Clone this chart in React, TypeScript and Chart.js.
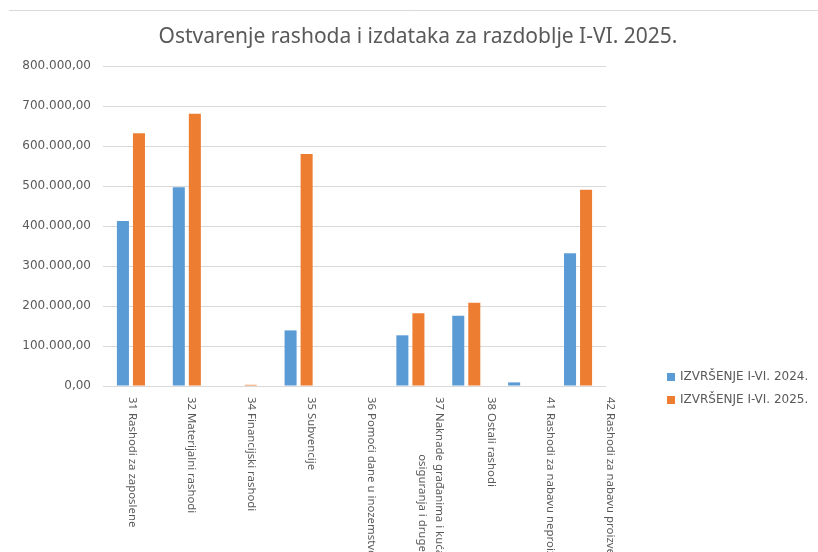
import React, { useEffect, useRef } from "react";
import { Chart, registerables } from "chart.js";

Chart.register(...registerables);

const TITLE = "Ostvarenje rashoda i izdataka za razdoblje I-VI. 2025.";

const categories: string[][] = [
  ["31 Rashodi za zaposlene"],
  ["32 Materijalni rashodi"],
  ["34 Financijski rashodi"],
  ["35 Subvencije"],
  ["36 Pomoći dane u inozemstvo i unutar općeg proračuna"],
  ["37 Naknade građanima i kućanstvima na temelju", "osiguranja i druge naknade"],
  ["38 Ostali rashodi"],
  ["41 Rashodi za nabavu neproizvedene dugotrajne imovine"],
  ["42 Rashodi za nabavu proizvedene dugotrajne imovine"],
];

const seriesNames = ["IZVRŠENJE I-VI. 2024.", "IZVRŠENJE I-VI. 2025."];
const values2024 = [412500, 496700, 0, 139000, 0, 126700, 175800, 9000, 331700];
const values2025 = [631700, 680800, 3000, 580000, 0, 181700, 208000, 0, 490800];
const seriesColors = ["#5B9BD5", "#ED7D31"];

const yMin = 0;
const yMax = 800000;
const yStep = 100000;

const TEXT_COLOR = "#595959";
const GRID_COLOR = "#d9d9d9";
const LABEL_SPREAD = 1.07;

function formatHr(v: number): string {
  const [intPart, dec] = Math.abs(v).toFixed(2).split(".");
  const withDots = intPart.replace(/\B(?=(\d{3})+(?!\d))/g, ".");
  return (v < 0 ? "-" : "") + withDots + "," + dec;
}

const decorPlugin = {
  id: "decor",
  beforeDraw(chart: any) {
    const { ctx, width } = chart;
    ctx.save();
    ctx.fillStyle = "#ffffff";
    ctx.fillRect(0, 0, width, chart.height);
    ctx.strokeStyle = GRID_COLOR;
    ctx.lineWidth = 1;
    ctx.beginPath();
    ctx.moveTo(9, 10.5);
    ctx.lineTo(width, 10.5);
    ctx.stroke();
    ctx.restore();
  },
  afterDraw(chart: any) {
    const { ctx, chartArea } = chart;
    const xs = chart.scales.x;
    ctx.save();
    // title
    ctx.fillStyle = TEXT_COLOR;
    ctx.font = '21px "Noto Sans"';
    ctx.textAlign = "center";
    ctx.textBaseline = "middle";
    ctx.fillText(TITLE, chart.width / 2 + 9, 37);

    // x labels, rotated 90deg clockwise
    ctx.font = '11.4px "Noto Sans"';
    ctx.fillStyle = TEXT_COLOR;
    ctx.textAlign = "left";
    ctx.textBaseline = "middle";
    const lh = 17;
    const x0 = xs.getPixelForTick(0);
    categories.forEach((lines, i) => {
      const x = x0 + 1 + (xs.getPixelForTick(i) - x0) * LABEL_SPREAD;
      const widths = lines.map((l) => ctx.measureText(l).width);
      const maxW = Math.max(...widths);
      ctx.save();
      ctx.translate(x, chartArea.bottom + 11);
      ctx.rotate(Math.PI / 2);
      lines.forEach((l, j) => {
        const off = (j - (lines.length - 1) / 2) * lh;
        ctx.fillText(l, (maxW - widths[j]) / 2, off);
      });
      ctx.restore();
    });

    // legend
    ctx.font = '12px "DejaVu Sans"';
    ctx.textAlign = "left";
    ctx.textBaseline = "middle";
    chart.data.datasets.forEach((ds: any, i: number) => {
      const cy = chartArea.bottom - 9 + i * 23;
      const bx = chartArea.right + 61;
      ctx.fillStyle = ds.backgroundColor;
      ctx.fillRect(bx, cy - 4, 8, 8);
      ctx.fillStyle = TEXT_COLOR;
      ctx.fillText(ds.label, bx + 13, cy);
    });
    ctx.restore();
  },
};

export default function App() {
  const canvasRef = useRef<HTMLCanvasElement | null>(null);

  useEffect(() => {
    if (!canvasRef.current) return;
    const chart = new Chart(canvasRef.current, {
      type: "bar",
      data: {
        labels: categories.map((c) => c.join(" ")),
        datasets: [
          {
            label: seriesNames[0],
            data: values2024,
            backgroundColor: seriesColors[0],
            categoryPercentage: 0.574,
            barPercentage: 0.75,
          },
          {
            label: seriesNames[1],
            data: values2025,
            backgroundColor: seriesColors[1],
            categoryPercentage: 0.574,
            barPercentage: 0.75,
          },
        ],
      },
      options: {
        responsive: false,
        animation: false,
        devicePixelRatio: 1,
        layout: { padding: { top: 66, right: 212, bottom: 0, left: 0 } },
        plugins: {
          legend: { display: false },
          title: { display: false },
          tooltip: { enabled: false },
        },
        scales: {
          x: {
            grid: { display: false },
            border: { display: false },
            ticks: { display: false },
            afterFit: (scale: any) => {
              scale.height = 166;
            },
          },
          y: {
            min: yMin,
            max: yMax,
            grid: { color: GRID_COLOR, lineWidth: 1, drawTicks: false },
            border: { display: false },
            ticks: {
              stepSize: yStep,
              padding: 12,
              color: TEXT_COLOR,
              font: { family: "DejaVu Sans", size: 12 },
              callback: (v: any) => formatHr(Number(v)),
            },
            afterFit: (scale: any) => {
              scale.width = 103;
            },
          },
        },
      },
      plugins: [decorPlugin],
    });
    return () => chart.destroy();
  }, []);

  return (
    <div style={{ position: "absolute", left: 0, top: 0, width: 818, height: 552, background: "#fff" }}>
      <canvas ref={canvasRef} width={818} height={552} style={{ display: "block" }} />
    </div>
  );
}
